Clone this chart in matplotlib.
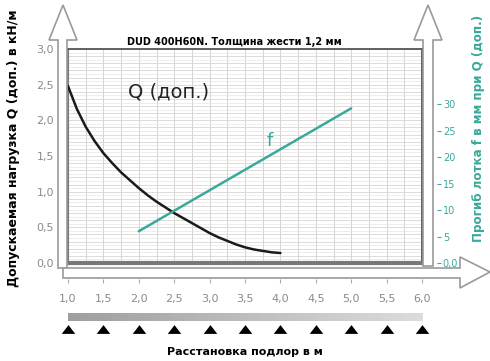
import numpy as np
import matplotlib
matplotlib.use("Agg")
import matplotlib.pyplot as plt
from matplotlib.patches import Polygon

# data
span_ticks = [1.0, 1.5, 2.0, 2.5, 3.0, 3.5, 4.0, 4.5, 5.0, 5.5, 6.0]
span_labels = ["1,0", "1,5", "2,0", "2,5", "3,0", "3,5", "4,0", "4,5", "5,0", "5,5", "6,0"]
q_ticks = [0.0, 0.5, 1.0, 1.5, 2.0, 2.5, 3.0]
q_labels = ["0,0", "0,5", "1,0", "1,5", "2,0", "2,5", "3,0"]
f_ticks = [0, 5, 10, 15, 20, 25, 30]
f_labels = ["0,0", "5", "10", "15", "20", "25", "30"]

q_x = [1.0, 1.125, 1.25, 1.375, 1.5, 1.625, 1.75, 1.875, 2.0, 2.125, 2.25,
       2.375, 2.5, 2.625, 2.75, 2.875, 3.0, 3.125, 3.25, 3.375, 3.5, 3.625,
       3.75, 3.875, 4.0]
q_y = [2.48, 2.16, 1.91, 1.71, 1.54, 1.40, 1.27, 1.16, 1.05, 0.95, 0.86,
       0.78, 0.70, 0.63, 0.56, 0.49, 0.42, 0.36, 0.31, 0.26, 0.22, 0.19,
       0.17, 0.15, 0.14]
f_x = [2.0, 5.0]
f_y = [6.0, 29.2]

W, H = 490, 361
TEAL = "#3aa89b"
GREY = "#8a8a8a"


def fx(px):
    return px / W


def fy(py):
    return 1 - py / H


def arrow(fig, pts):
    poly = Polygon([(fx(x), fy(y)) for x, y in pts], closed=True,
                   transform=fig.transFigure, facecolor="white",
                   edgecolor="#9a9a9a", lw=1.2, zorder=5)
    fig.add_artist(poly)


fig = plt.figure(figsize=(W / 100, H / 100), dpi=100)
fig.patch.set_facecolor("white")

ax = fig.add_axes([fx(68), fy(263), (422 - 68) / W, (263 - 49) / H])
ax.set_xlim(1.0, 6.0)
ax.set_ylim(0.0, 3.0)

# fine grid
for v in np.arange(1.0, 6.001, 0.25):
    ax.axvline(v, color="#d6d0d0", lw=0.7, zorder=0)
for h in np.arange(0.0, 3.001, 0.05):
    ax.axhline(h, color="#e8e4e4", lw=0.5, zorder=0)
for h in np.arange(0.0, 3.001, 0.1):
    ax.axhline(h, color="#dcd8d8", lw=0.6, zorder=0)

ax.plot(q_x, q_y, color="#1a1a1a", lw=1.8, zorder=3, solid_capstyle="round")

ax.set_xticks(span_ticks)
ax.set_xticklabels(span_labels)
ax.set_yticks(q_ticks)
ax.set_yticklabels(q_labels)
ax.tick_params(axis="x", length=0, pad=22, labelsize=8, labelcolor=GREY)
ax.tick_params(axis="y", length=0, pad=10, labelsize=8, labelcolor=GREY)
ax.spines["top"].set_color("#555555")
ax.spines["top"].set_linewidth(1.3)
ax.spines["right"].set_color("#555555")
ax.spines["right"].set_linewidth(2.0)
ax.spines["left"].set_color("#777777")
ax.spines["left"].set_linewidth(1.5)
ax.spines["bottom"].set_color("#777777")
ax.spines["bottom"].set_linewidth(3.0)

# small x tick marks under the arrow shaft
ax.vlines(span_ticks, -0.075, -0.095, color="#aaaaaa", lw=0.8,
          transform=ax.get_xaxis_transform(), clip_on=False)

ax.text(1.85, 2.4, "Q (доп.)", fontsize=14, color="#222222", va="center")
ax.set_title("DUD 400H60N. Толщина жести 1,2 мм", fontsize=7,
             fontweight="bold", pad=3, x=0.47)

ax2 = ax.twinx()
ax2.set_ylim(0, 40.4)
ax2.plot(f_x, f_y, color=TEAL, lw=1.8, zorder=3, solid_capstyle="round")
ax2.text(3.8, 23.0, "f", fontsize=13, color=TEAL, va="center")
ax2.set_yticks(f_ticks)
ax2.set_yticklabels(f_labels)
ax2.spines["right"].set_position(("outward", 11))
for s in ax2.spines.values():
    s.set_visible(False)
ax2.tick_params(axis="y", length=3, width=0.8, pad=1, color=TEAL,
                labelcolor=TEAL, labelsize=7)

# arrows
arrow(fig, [(58, 268), (58, 40), (49, 40), (63, 5), (77, 40), (67, 40), (67, 268)])
arrow(fig, [(423, 266), (423, 40), (414, 40), (428, 5), (442, 40), (433, 40), (433, 266)])
arrow(fig, [(63, 268), (460, 268), (460, 257), (490, 272), (460, 288), (460, 278), (63, 278)])

# support strip: gradient bar and triangles
sx = fig.add_axes([fx(68), fy(336), (422 - 68) / W, (336 - 312) / H])
sx.set_xlim(1.0, 6.0)
sx.set_ylim(0, 1)
grad = np.linspace(0.62, 0.86, 256)[None, :]
sx.imshow(grad, extent=(1.0, 6.0, 0.62, 0.93), aspect="auto", cmap="gray",
          vmin=0, vmax=1)
sx.scatter(span_ticks, [0.29] * len(span_ticks),
           marker=[(-1, -0.65), (1, -0.65), (0, 0.65)],
           s=95, color="black", clip_on=False, linewidths=0)
sx.set_axis_off()

fig.text(fx(245), fy(352), "Расстановка подлор в м", fontsize=8,
         fontweight="bold", ha="center", va="center")
fig.text(fx(14), fy(148), "Допускаемая нагрузка Q (доп.) в кН/м", fontsize=9,
         fontweight="bold", rotation=90, ha="center", va="center")
fig.text(fx(478), fy(128), "Прогиб лотка f в мм при Q (доп.)", fontsize=8.6,
         fontweight="bold", rotation=90, ha="center", va="center", color=TEAL)

fig.savefig("out.png", dpi=100)
